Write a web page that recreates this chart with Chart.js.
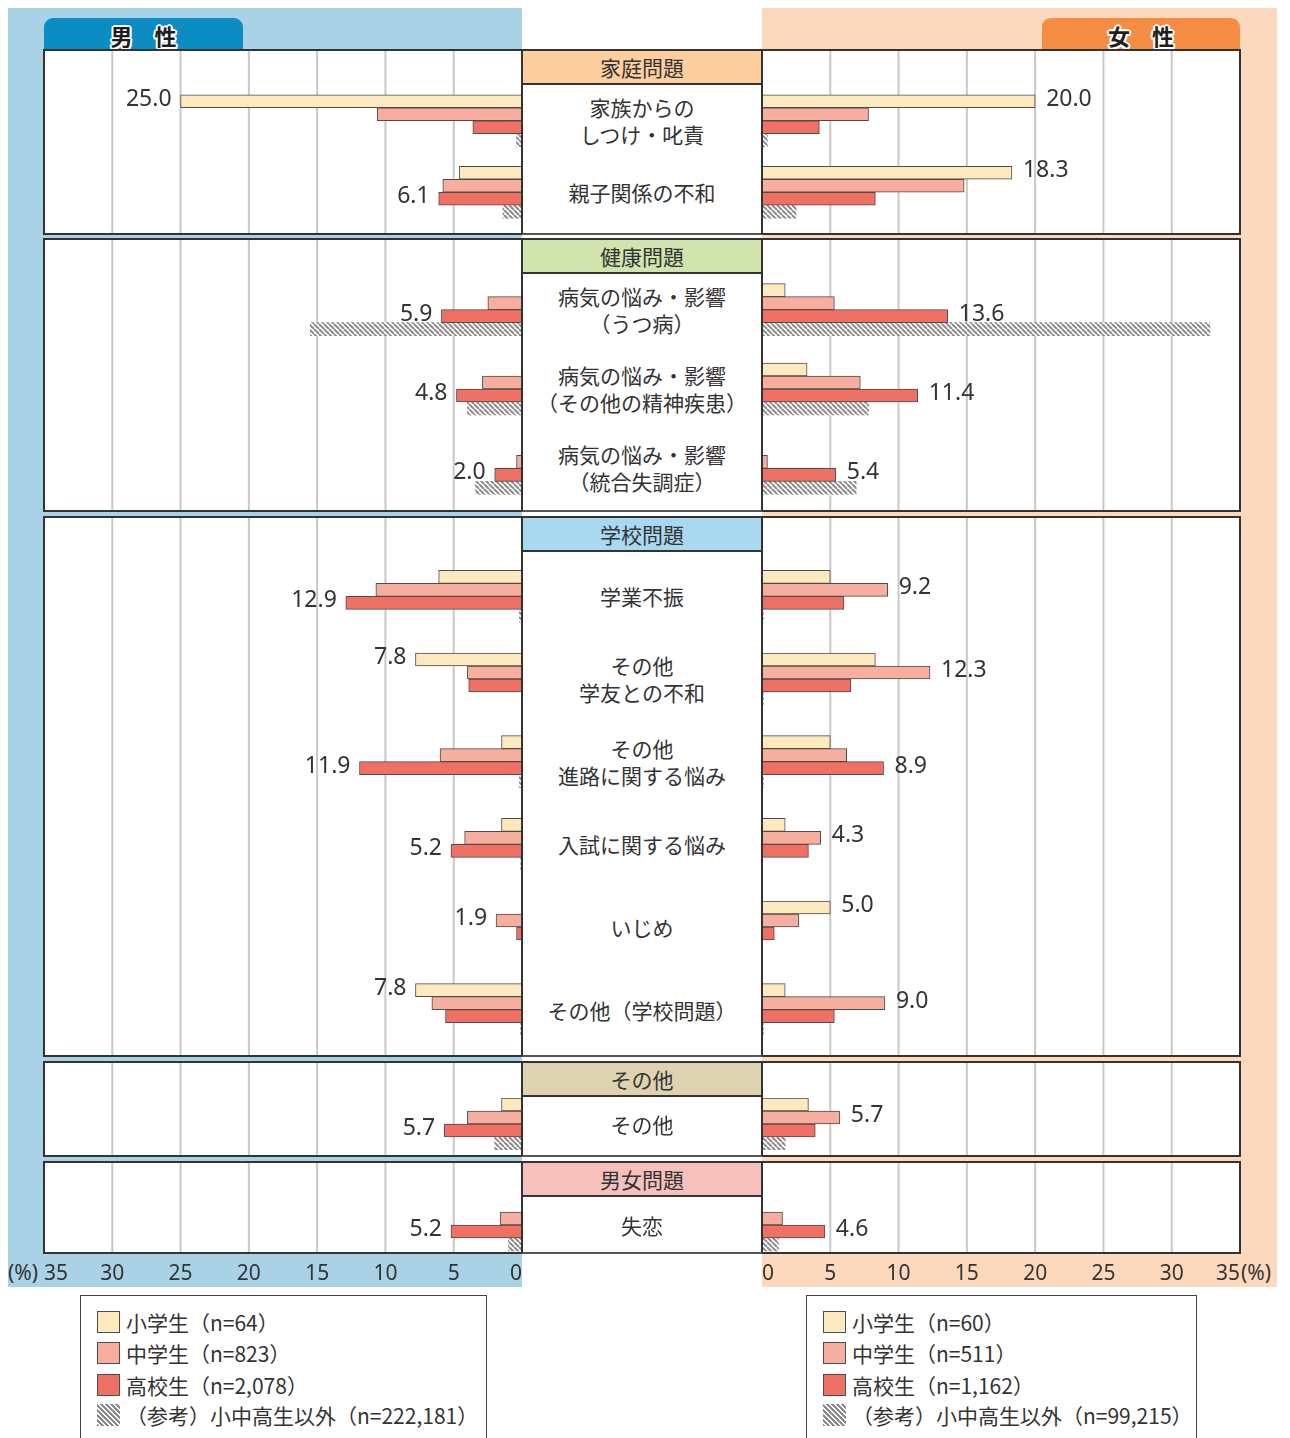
<!DOCTYPE html>
<html lang="ja">
<head>
<meta charset="utf-8">
<title>相談内容（男女別・学校段階別）</title>
<script src="https://cdn.jsdelivr.net/npm/chart.js@4.4.1/dist/chart.umd.min.js"></script>
<style>
  html, body { margin: 0; padding: 0; background: #fff; }
  body { width: 1290px; height: 1438px; position: relative; overflow: hidden;
         font-family: "Noto Sans CJK JP", "Noto Sans", sans-serif; color: #333; }
  .abs { position: absolute; box-sizing: border-box; }
  canvas { position: absolute; }
</style>
</head>
<body>
<script>
// ---------- data ----------
const axisMax = 35;
const tickStep = 5;

const groupTitles = ['家庭問題', '健康問題', '学校問題', 'その他', '男女問題'];
const categories = [
  '家族からの\nしつけ・叱責', '親子関係の不和',
  '病気の悩み・影響\n（うつ病）', '病気の悩み・影響\n（その他の精神疾患）', '病気の悩み・影響\n（統合失調症）',
  '学業不振', 'その他\n学友との不和', 'その他\n進路に関する悩み', '入試に関する悩み', 'いじめ', 'その他（学校問題）',
  'その他',
  '失恋'
];
const categoryGroup = [0, 0, 1, 1, 1, 2, 2, 2, 2, 2, 2, 3, 4];

const maleLegend = ['小学生（n=64）', '中学生（n=823）', '高校生（n=2,078）', '（参考）小中高生以外（n=222,181）'];
const femaleLegend = ['小学生（n=60）', '中学生（n=511）', '高校生（n=1,162）', '（参考）小中高生以外（n=99,215）'];

// 男性 (%)
const maleElementary = [25.0, 4.6, 0, 0, 0, 6.1, 7.8, 1.5, 1.5, 0, 7.8, 1.5, 0];
const maleJunior     = [10.6, 5.8, 2.5, 2.9, 0.4, 10.7, 4.0, 6.0, 4.2, 1.9, 6.6, 4.0, 1.6];
const maleHigh       = [3.6, 6.1, 5.9, 4.8, 2.0, 12.9, 3.9, 11.9, 5.2, 0.4, 5.6, 5.7, 5.2];
const maleOther      = [0.4, 1.4, 15.5, 4.0, 3.4, 0.2, 0, 0.2, 0.1, 0, 0.1, 2.0, 1.0];

// 女性 (%)
const femaleElementary = [20.0, 18.3, 1.7, 3.3, 0, 5.0, 8.3, 5.0, 1.7, 5.0, 1.7, 3.4, 0];
const femaleJunior     = [7.8, 14.8, 5.3, 7.2, 0.4, 9.2, 12.3, 6.2, 4.3, 2.7, 9.0, 5.7, 1.5];
const femaleHigh       = [4.2, 8.3, 13.6, 11.4, 5.4, 6.0, 6.5, 8.9, 3.4, 0.9, 5.3, 3.9, 4.6];
const femaleOther      = [0.4, 2.5, 32.8, 7.8, 6.9, 0.1, 0.1, 0.1, 0, 0, 0.1, 1.7, 1.2];

// ---------- layout & style ----------
const frames = [
  { top: 50,   bottom: 234,  padTop: 35, padBottom: 6 },
  { top: 239,  bottom: 511,  padTop: 31, padBottom: 3 },
  { top: 517,  bottom: 1056, padTop: 38, padBottom: 5 },
  { top: 1062, bottom: 1156, padTop: 36, padBottom: 6 },
  { top: 1162, bottom: 1253, padTop: 35, padBottom: 0 }
];
const leftX = 44, midL = 522, midR = 762, rightX = 1240;
const panelW = midL - leftX;
const groupColors = ['#fdcf9f', '#d1e4ae', '#a9d9f1', '#ddd3b1', '#f6c1bc'];
const seriesColors = ['#fde9be', '#f7ae9f', '#f07064'];
const barEdge = '#4d4d4d';
const textColor = '#333';
const numFont = '"Noto Sans", "Noto Sans CJK JP", sans-serif';

const root = document.body;
function box(style, text) {
  const d = document.createElement('div');
  d.className = 'abs';
  Object.assign(d.style, style);
  if (text != null) d.textContent = text;
  root.appendChild(d);
  return d;
}
const px = v => v + 'px';

// hatch tile for the reference series
const tile = document.createElement('canvas');
tile.width = 5; tile.height = 5;
(function () {
  const g = tile.getContext('2d');
  g.fillStyle = '#ffffff';
  g.fillRect(0, 0, 5, 5);
  g.strokeStyle = '#8c8c8c';
  g.lineWidth = 2;
  for (const o of [-5, 0, 5]) {
    g.beginPath(); g.moveTo(o, 0); g.lineTo(o + 5, 5); g.stroke();
  }
})();

// ---------- backgrounds and tabs ----------
box({ left: '8px', top: '8px', width: px(midL - 8), height: '1279px', background: '#a9d2e6' });
box({ left: px(midR), top: '8px', width: px(1277 - midR), height: '1279px', background: '#fcd8bc' });

const tabText = {
  fontSize: '22px', fontWeight: '700', color: '#1e1e1e', textAlign: 'center', lineHeight: '34px',
  textShadow: '0 0 2px #fff, 2px 0 0 #fff, -2px 0 0 #fff, 0 2px 0 #fff, 0 -2px 0 #fff, 1.5px 1.5px 0 #fff, -1.5px -1.5px 0 #fff, 1.5px -1.5px 0 #fff, -1.5px 1.5px 0 #fff'
};
box(Object.assign({ left: px(leftX), top: '18px', width: '199px', height: '34px', background: '#0b8cc3', borderRadius: '9px 9px 0 0' }, tabText), '男　性');
box(Object.assign({ left: '1042px', top: '18px', width: '198px', height: '34px', background: '#f68d45', borderRadius: '9px 9px 0 0' }, tabText), '女　性');

// ---------- plugins ----------
const fullGrid = {
  id: 'fullGrid',
  beforeDatasetsDraw(chart) {
    const sx = chart.scales.x, c = chart.ctx;
    c.save();
    c.strokeStyle = '#c8c8c8';
    c.lineWidth = 2;
    for (let v = tickStep; v < axisMax; v += tickStep) {
      const x = sx.getPixelForValue(v);
      c.beginPath(); c.moveTo(x, 0); c.lineTo(x, chart.height); c.stroke();
    }
    c.restore();
  }
};

const valueLabels = {
  id: 'valueLabels',
  afterDatasetsDraw(chart, args, opts) {
    const c = chart.ctx, ds = chart.data.datasets;
    c.save();
    c.font = '23px ' + numFont;
    c.fillStyle = textColor;
    c.textBaseline = 'middle';
    for (let i = 0; i < chart.data.labels.length; i++) {
      let best = 0;
      for (let k = 1; k < 3; k++) if (ds[k].data[i] > ds[best].data[i]) best = k;
      const bar = chart.getDatasetMeta(best).data[i];
      const txt = ds[best].data[i].toFixed(1);
      if (opts.side === 'left') { c.textAlign = 'right'; c.fillText(txt, bar.x - 9, bar.y - 2); }
      else { c.textAlign = 'left'; c.fillText(txt, bar.x + 11, bar.y - 2); }
    }
    c.restore();
  }
};

// ---------- group panels ----------
function makeCanvas(x, y, w, h) {
  const cv = document.createElement('canvas');
  cv.width = w; cv.height = h;
  cv.style.left = px(x); cv.style.top = px(y);
  cv.style.width = px(w); cv.style.height = px(h);
  cv.style.zIndex = 2;
  root.appendChild(cv);
  return cv;
}

function groupChart(side, g, idx) {
  const f = frames[g];
  const h = f.bottom - f.top;
  const left = side === 'left';
  const cv = makeCanvas(left ? leftX : midR, f.top, panelW, h);
  const pattern = cv.getContext('2d').createPattern(tile, 'repeat');
  const src = left ? [maleElementary, maleJunior, maleHigh, maleOther]
                   : [femaleElementary, femaleJunior, femaleHigh, femaleOther];
  const names = left ? maleLegend : femaleLegend;
  return new Chart(cv, {
    type: 'bar',
    data: {
      labels: idx.map(i => categories[i]),
      datasets: src.map((arr, k) => ({
        label: names[k],
        data: idx.map(i => arr[i]),
        backgroundColor: k < 3 ? seriesColors[k] : pattern,
        borderColor: barEdge,
        borderWidth: ctx => (k < 3 && ctx.raw > 0) ? 1 : 0,
        borderSkipped: 'start',
        barThickness: 13
      }))
    },
    options: {
      indexAxis: 'y',
      responsive: false,
      animation: false,
      events: [],
      layout: { padding: { top: f.padTop, bottom: f.padBottom, left: 0, right: 0 } },
      plugins: { legend: { display: false }, tooltip: { enabled: false }, valueLabels: { side } },
      scales: {
        x: { type: 'linear', min: 0, max: axisMax, reverse: left, display: false },
        y: { type: 'category', offset: true, display: false }
      }
    },
    plugins: [fullGrid, valueLabels]
  });
}

frames.forEach((f, g) => {
  const h = f.bottom - f.top;
  // white box behind the charts
  box({ left: px(leftX - 1), top: px(f.top - 1), width: px(rightX - leftX + 2), height: px(h + 2), background: '#fff', zIndex: 1 });
  const idx = categories.map((_, i) => i).filter(i => categoryGroup[i] === g);
  const lc = groupChart('left', g, idx);
  groupChart('right', g, idx);
  // outline
  box({ left: px(leftX - 1), top: px(f.top - 1), width: px(rightX - leftX + 2), height: px(h + 2), border: '2px solid #333', zIndex: 3 });
  // centre column
  const col = box({ left: px(midL - 1), top: px(f.top - 1), width: px(midR - midL + 2), height: px(h + 2),
    background: '#fff', borderLeft: '2px solid #333', borderRight: '2px solid #333', borderTop: '2px solid #333', borderBottom: '2px solid #555', zIndex: 4 });
  const head = document.createElement('div');
  Object.assign(head.style, { position: 'absolute', left: '0', top: '0', width: '100%', height: '34px', boxSizing: 'border-box',
    background: groupColors[g], borderBottom: '2px solid #333', textAlign: 'center', lineHeight: '32px', fontSize: '21px', color: textColor });
  head.textContent = groupTitles[g];
  col.appendChild(head);
  idx.forEach((ci, j) => {
    const yc = lc.scales.y.getPixelForValue(j);
    const t = document.createElement('div');
    Object.assign(t.style, { position: 'absolute', left: '0', width: '100%', top: px(yc - 1), transform: 'translateY(-50%)',
      textAlign: 'center', whiteSpace: 'pre-line', fontSize: '21px', lineHeight: '27px', color: textColor });
    t.textContent = categories[ci];
    col.appendChild(t);
  });
});

// ---------- bottom axes ----------
function axisChart(side) {
  const left = side === 'left';
  const cv = makeCanvas(left ? leftX : midR, 1261, panelW, 60);
  new Chart(cv, {
    type: 'scatter',
    data: { datasets: [] },
    options: {
      responsive: false, animation: false, events: [],
      plugins: { legend: { display: false }, tooltip: { enabled: false } },
      scales: {
        // the male axis runs right-to-left, so its domain is mirrored and shown as magnitudes
        x: { type: 'linear', min: left ? -axisMax : 0, max: left ? 0 : axisMax, position: 'top',
             grid: { display: false, drawTicks: false }, border: { display: false },
             ticks: { stepSize: tickStep, align: 'inner', padding: 0, maxRotation: 0, autoSkip: false,
                      color: textColor, font: { family: numFont, size: 21 },
                      callback: v => String(Math.abs(v)) } },
        y: { display: false }
      }
    }
  });
}
axisChart('left');
axisChart('right');
box({ left: '8px', top: '1257px', fontFamily: numFont, fontSize: '21px', lineHeight: '30px', color: textColor, zIndex: 3 }, '(%)');
box({ left: '1241px', top: '1257px', fontFamily: numFont, fontSize: '21px', lineHeight: '30px', color: textColor, zIndex: 3 }, '(%)');

// ---------- legends ----------
function legend(x, w, names) {
  box({ left: px(x), top: '1295px', width: px(w), height: '160px', border: '1.5px solid #444', background: '#fff' });
  const rows = [1322, 1353, 1385, 1415];
  names.forEach((n, k) => {
    const sw = { left: px(x + 17), top: px(rows[k] - 11), width: '23px', height: '22px' };
    if (k < 3) Object.assign(sw, { background: seriesColors[k], border: '1px solid ' + barEdge });
    else Object.assign(sw, { background: 'repeating-linear-gradient(45deg, #8c8c8c 0 2px, #fff 2px 3.5px)' });
    box(sw);
    box({ left: px(x + 46), top: px(rows[k] - 15), fontSize: '21px', lineHeight: '30px', color: textColor, whiteSpace: 'nowrap' }, n);
  });
}
legend(80, 407, maleLegend);
legend(806, 391, femaleLegend);
</script>
</body>
</html>
